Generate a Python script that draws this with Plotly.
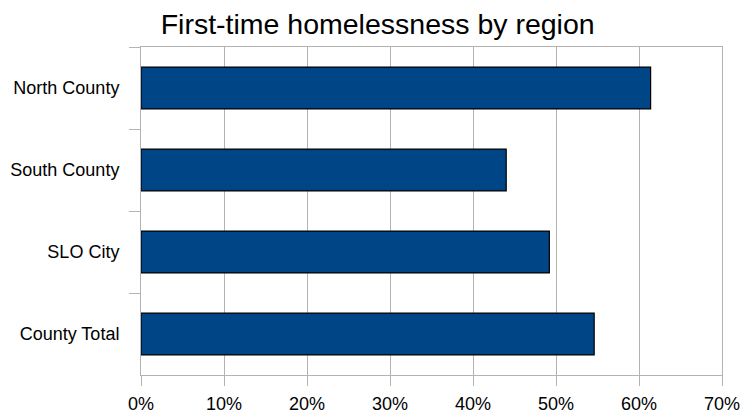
import plotly.graph_objects as go

regions = ["North County", "South County", "SLO City", "County Total"]
first_time_pct = [61.4, 44.0, 49.2, 54.6]
x_tick_vals = [0, 10, 20, 30, 40, 50, 60, 70]
x_tick_text = ["0%", "10%", "20%", "30%", "40%", "50%", "60%", "70%"]

fig = go.Figure(
    go.Bar(
        x=first_time_pct,
        y=regions,
        orientation="h",
        marker=dict(color="#004586", line=dict(color="#000000", width=1.2)),
        hoverinfo="x+y",
    )
)

grid = "#b3b3b3"
fig.update_layout(
    width=742,
    height=413,
    margin=dict(l=141, r=20, t=47, b=38, autoexpand=False),
    paper_bgcolor="white",
    plot_bgcolor="white",
    bargap=0.49,
    showlegend=False,
    font=dict(family="Liberation Sans, Arial, sans-serif", size=18, color="#000000"),
    title=dict(
        text="First-time homelessness by region",
        font=dict(size=28.5, color="#000000"),
        x=0.509,
        xref="container",
        xanchor="center",
        y=1 - 24 / 413,
        yref="container",
        yanchor="middle",
        automargin=False,
    ),
    xaxis=dict(
        range=[0, 70],
        tickvals=x_tick_vals,
        ticktext=x_tick_text,
        showgrid=True,
        gridcolor=grid,
        gridwidth=1,
        zeroline=False,
        showline=True,
        linecolor=grid,
        linewidth=1,
        mirror=True,
        ticks="outside",
        ticklen=10,
        tickcolor=grid,
        tickwidth=1,
        ticklabelstandoff=2,
        automargin=False,
    ),
    yaxis=dict(
        type="category",
        autorange="reversed",
        tickson="boundaries",
        showgrid=False,
        zeroline=False,
        showline=True,
        linecolor=grid,
        linewidth=1,
        mirror=True,
        ticks="outside",
        ticklen=11,
        tickcolor=grid,
        tickwidth=1,
        ticklabelstandoff=17,
        automargin=False,
    ),
)

fig.write_html(
    "out.html",
    config={"displayModeBar": False},
    post_script="document.body.style.margin='0';document.body.style.padding='0';",
)
